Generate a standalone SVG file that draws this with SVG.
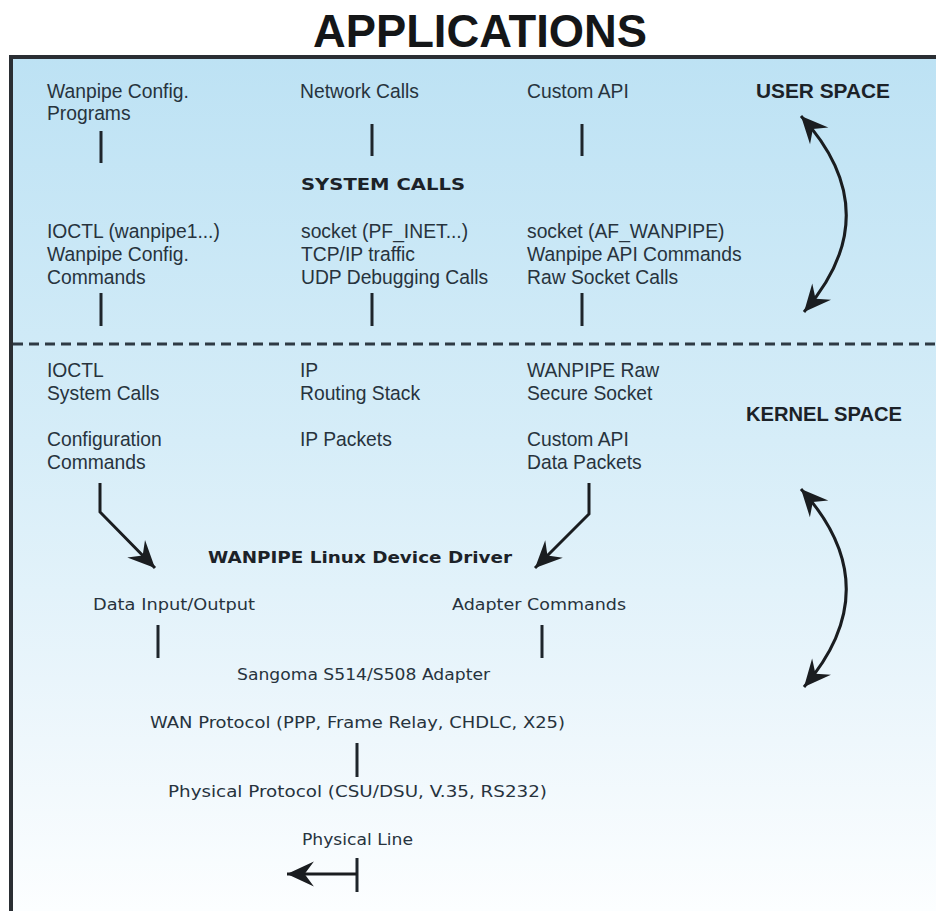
<svg xmlns="http://www.w3.org/2000/svg" width="936" height="911" viewBox="0 0 936 911">
<defs>
<linearGradient id="bg" x1="0" y1="0" x2="0" y2="1">
<stop offset="0" stop-color="#bde2f4"/>
<stop offset="0.45" stop-color="#d6edf8"/>
<stop offset="0.8" stop-color="#eef7fc"/>
<stop offset="1" stop-color="#fcfeff"/>
</linearGradient>
<marker id="ah" markerUnits="userSpaceOnUse" markerWidth="30" markerHeight="30" viewBox="-27 -14 29 28" refX="0" refY="0" orient="auto-start-reverse">
<path d="M0,0 L-26,-12 L-17,0 L-26,12 Z" fill="#1a1d20"/>
</marker>
<style>
.t{font-family:"Liberation Sans",Arial,sans-serif;font-size:19.3px;fill:#27333d}
.w{font-family:"DejaVu Sans","Liberation Sans",sans-serif;font-size:16.3px;fill:#27333d}
.b{font-weight:bold;fill:#1c2228}
.ln{stroke:#1e252b;stroke-width:3;fill:none}
.ar{stroke:#1a1d20;stroke-width:3;fill:none;marker-end:url(#ah)}
.ar2{stroke:#1a1d20;stroke-width:3;fill:none;marker-end:url(#ah);marker-start:url(#ah)}
</style>
</defs>
<rect x="0" y="0" width="936" height="911" fill="#ffffff"/>
<rect x="11" y="57" width="925" height="854" fill="url(#bg)"/>
<g id="frame">
<line x1="9" y1="57" x2="936" y2="57" stroke="#2a2e33" stroke-width="4"/>
<line x1="11" y1="55" x2="11" y2="911" stroke="#2a2e33" stroke-width="4"/>
<line x1="13" y1="344" x2="936" y2="344" stroke="#2e3a44" stroke-width="3" stroke-dasharray="10 6"/>
</g>
<g id="title"><text x="313" y="47" font-family="'Liberation Sans',Arial,sans-serif" font-weight="bold" font-size="46" fill="#141618" textLength="334" lengthAdjust="spacingAndGlyphs">APPLICATIONS</text></g>

<g id="wanpipe-config-programs"><text class="t" x="47" y="98">Wanpipe Config.</text><text class="t" x="47" y="120">Programs</text></g>
<g id="network-calls"><text class="t" x="300" y="98">Network Calls</text></g>
<g id="custom-api-user"><text class="t" x="527" y="98">Custom API</text></g>
<g id="user-space"><text class="t b" x="756" y="98" textLength="134" lengthAdjust="spacingAndGlyphs">USER SPACE</text></g>
<g id="system-calls"><text class="w b" x="301" y="190" font-size="17" textLength="164" lengthAdjust="spacingAndGlyphs">SYSTEM CALLS</text></g>

<g id="ioctl-user"><text class="t" x="47" y="238">IOCTL (wanpipe1...)</text><text class="t" x="47" y="261">Wanpipe Config.</text><text class="t" x="47" y="284">Commands</text></g>
<g id="socket-inet"><text class="t" x="301" y="238">socket (PF_INET...)</text><text class="t" x="301" y="261">TCP/IP traffic</text><text class="t" x="301" y="284">UDP Debugging Calls</text></g>
<g id="socket-wanpipe"><text class="t" x="527" y="238">socket (AF_WANPIPE)</text><text class="t" x="527" y="261">Wanpipe API Commands</text><text class="t" x="527" y="284">Raw Socket Calls</text></g>

<g id="ioctl-kernel"><text class="t" x="47" y="377">IOCTL</text><text class="t" x="47" y="400">System Calls</text></g>
<g id="ip-routing"><text class="t" x="300" y="377">IP</text><text class="t" x="300" y="400">Routing Stack</text></g>
<g id="wanpipe-raw"><text class="t" x="527" y="377">WANPIPE Raw</text><text class="t" x="527" y="400">Secure Socket</text></g>
<g id="kernel-space"><text class="t b" x="746" y="421" textLength="156" lengthAdjust="spacingAndGlyphs">KERNEL SPACE</text></g>
<g id="config-commands"><text class="t" x="47" y="446">Configuration</text><text class="t" x="47" y="469">Commands</text></g>
<g id="ip-packets"><text class="t" x="300" y="446">IP Packets</text></g>
<g id="custom-api-data"><text class="t" x="527" y="446">Custom API</text><text class="t" x="527" y="469">Data Packets</text></g>

<g id="device-driver"><text class="w b" x="208" y="563" font-size="17" textLength="304" lengthAdjust="spacingAndGlyphs">WANPIPE Linux Device Driver</text></g>
<g id="data-io"><text class="w" x="93" y="610" textLength="162" lengthAdjust="spacingAndGlyphs">Data Input/Output</text></g>
<g id="adapter-commands"><text class="w" x="452" y="610" textLength="174" lengthAdjust="spacingAndGlyphs">Adapter Commands</text></g>
<g id="adapter"><text class="w" x="237" y="680" textLength="253" lengthAdjust="spacingAndGlyphs">Sangoma S514/S508 Adapter</text></g>
<g id="wan-protocol"><text class="w" x="150" y="728" textLength="415" lengthAdjust="spacingAndGlyphs">WAN Protocol (PPP, Frame Relay, CHDLC, X25)</text></g>
<g id="physical-protocol"><text class="w" x="168" y="797" textLength="379" lengthAdjust="spacingAndGlyphs">Physical Protocol (CSU/DSU, V.35, RS232)</text></g>
<g id="physical-line"><text class="w" x="302" y="845" textLength="111" lengthAdjust="spacingAndGlyphs">Physical Line</text></g>

<g id="connectors">
<path class="ln" d="M101,131 V163"/>
<path class="ln" d="M372,124 V156"/>
<path class="ln" d="M582,124 V156"/>
<path class="ln" d="M101,293 V326"/>
<path class="ln" d="M372,293 V326"/>
<path class="ln" d="M582,293 V326"/>
<path class="ar" d="M100,483 V512 L155,568"/>
<path class="ar" d="M589,483 V514 L535,568"/>
<path class="ln" d="M158,625 V658"/>
<path class="ln" d="M542,625 V658"/>
<path class="ln" d="M357,743 V777"/>
<path class="ln" d="M357,858 V892"/>
<path class="ar" d="M357,874 H287"/>
<path class="ar2" d="M801,116 Q890,213 804,312"/>
<path class="ar2" d="M801,489 Q890,587 804,687"/>
</g>
</svg>
